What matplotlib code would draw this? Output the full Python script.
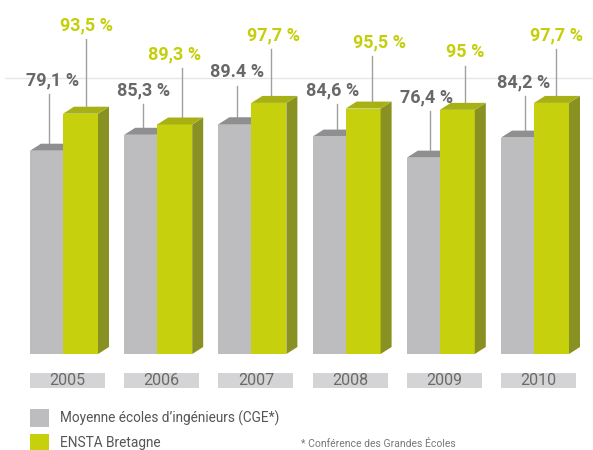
import matplotlib
matplotlib.use("Agg")
import matplotlib.pyplot as plt
from matplotlib.patches import Polygon, Rectangle
import numpy as np

# ---- data ----
years = ["2005", "2006", "2007", "2008", "2009", "2010"]
cge_values = [79.1, 85.3, 89.4, 84.6, 76.4, 84.2]
ensta_values = [93.5, 89.3, 97.7, 95.5, 95.0, 97.7]
cge_labels = ["79,1 %", "85,3 %", "89.4 %", "84,6 %", "76,4 %", "84,2 %"]
ensta_labels = ["93,5 %", "89,3 %", "97,7 %", "95,5 %", "95 %", "97,7 %"]
legend_labels = ["Moyenne écoles d’ingénieurs (CGE*)", "ENSTA Bretagne"]
footnote = "* Conférence des Grandes Écoles"

# ---- style ----
GRAY = "#bdbdbf"
GRAY_TOP = "#8f8f90"
GREEN = "#c7d00c"
GREEN_SIDE = "#8a9123"
GREEN_TOP = "#a7b116"
LBL_GRAY = "#68686a"
LBL_GREEN = "#c4cf0a"
BOX = "#d4d4d6"
FONT = "Roboto"

W, H = 593, 450
PX_X = 94.2          # pixels per group
PX_Y = 2.57          # pixels per percent
X0, Y0 = 30, 354     # pixel of first group left edge / zero line

fig = plt.figure(figsize=(W / 100, H / 100), dpi=100)
ax = fig.add_axes([0, 0, 1, 1])
ax.set_xlim(-X0 / PX_X, (W - X0) / PX_X)
ax.set_ylim(-(H - Y0) / PX_Y, Y0 / PX_Y)
ax.axis("off")

def dy_px(p):  # pixel distance -> data units (y)
    return p / PX_Y

def dx_px(p):
    return p / PX_X

x = np.arange(len(years))
wg = dx_px(33)
we = dx_px(35)
ddx = dx_px(11)
ddy = dy_px(7)

# light gridline
ax.axhline(dy_px(Y0 - 78), xmin=5 / W, xmax=1, color="#e6e6e6", lw=1, zorder=0)

# gray bars
ax.bar(x, cge_values, width=wg, align="edge", color=GRAY, zorder=2, lw=0)
for xi, v in zip(x, cge_values):
    ax.add_patch(Polygon([(xi, v), (xi + wg, v), (xi + wg + ddx, v + ddy), (xi + ddx, v + ddy)],
                         closed=True, color=GRAY_TOP, lw=0, zorder=2))
# green bars
ax.bar(x + wg, ensta_values, width=we, align="edge", color=GREEN, zorder=3, lw=0)
for xi, v in zip(x, ensta_values):
    xr = xi + wg + we
    ax.add_patch(Polygon([(xr, 0), (xr + ddx, ddy), (xr + ddx, v + ddy), (xr, v)],
                         closed=True, color=GREEN_SIDE, lw=0, zorder=3))
    ax.add_patch(Polygon([(xi + wg, v), (xr, v), (xr + ddx, v + ddy), (xi + wg + ddx, v + ddy)],
                         closed=True, color=GREEN_TOP, lw=0, zorder=3))

# labels and leader lines (layout in pixels)
g_lab_dx = [23, 19, 19, 20, 20, 23]
g_lab_y = [80, 90, 72, 90, 97, 82]
g_line_dx = [19, 19, 19, 24, 23, 24]
e_lab_dx = [57, 50, 55, 67, 58, 56]
e_lab_y = [25, 54, 35, 42, 52, 35]
e_line_dx = [56, 58, 53, 59, 58, 55]

for i, xi in enumerate(x):
    v = cge_values[i]
    ax.text(xi + dx_px(g_lab_dx[i]), dy_px(Y0 - g_lab_y[i]), cge_labels[i], ha="center", va="center",
            fontsize=13, fontweight="bold", color=LBL_GRAY, family=FONT, zorder=5)
    ax.plot([xi + dx_px(g_line_dx[i])] * 2, [dy_px(Y0 - g_lab_y[i] - 14), v + ddy],
            color="#a0a0a0", lw=1, zorder=1)
    v = ensta_values[i]
    ax.text(xi + dx_px(e_lab_dx[i]), dy_px(Y0 - e_lab_y[i]), ensta_labels[i], ha="center", va="center",
            fontsize=13, fontweight="bold", color=LBL_GREEN, family=FONT, zorder=5)
    ax.plot([xi + dx_px(e_line_dx[i])] * 2, [dy_px(Y0 - e_lab_y[i] - 14), v + ddy],
            color="#a0a0a0", lw=1, zorder=1)

# year boxes
for xi, yr in zip(x, years):
    ax.add_patch(Rectangle((xi, dy_px(Y0 - 388)), dx_px(75), dy_px(15), color=BOX, lw=0, zorder=2))
    ax.text(xi + dx_px(37.5), dy_px(Y0 - 380.5), yr, ha="center", va="center",
            fontsize=11.5, color="#6a6a6a", family=FONT, zorder=3)

# legend
fig.patches.append(Rectangle((29.5 / W, 1 - 427 / H), 19 / W, 18 / H, transform=fig.transFigure,
                             color=GRAY, lw=0))
fig.patches.append(Rectangle((29.5 / W, 1 - 452 / H), 19 / W, 18 / H, transform=fig.transFigure,
                             color=GREEN, lw=0))
fig.text(60 / W, 1 - 418 / H, legend_labels[0], ha="left", va="center", fontsize=9.8,
         color="#555555", family=FONT)
fig.text(60 / W, 1 - 443 / H, legend_labels[1], ha="left", va="center", fontsize=9.8,
         color="#555555", family=FONT)
fig.text(301 / W, 1 - 449 / H, footnote, ha="left", va="bottom", fontsize=7.5,
         color="#777777", family=FONT)

fig.savefig("out.png", dpi=100)
